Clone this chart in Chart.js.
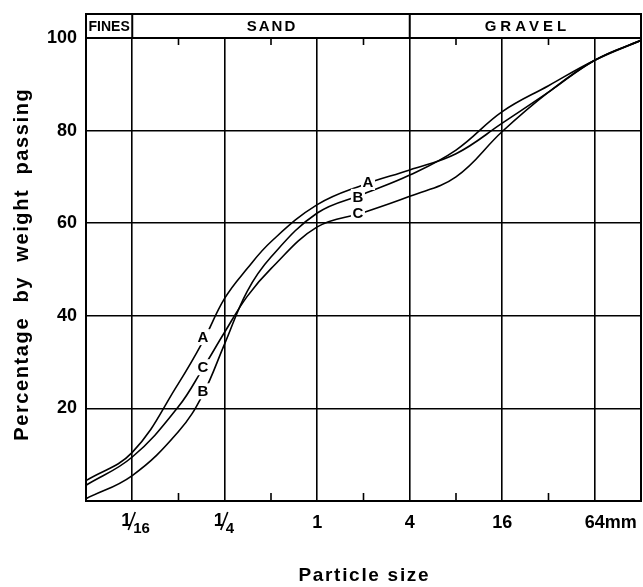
<!DOCTYPE html>
<html>
<head>
<meta charset="utf-8">
<script src="https://cdn.jsdelivr.net/npm/chart.js@4"></script>
<style>
  body { margin: 0; background: #fff; }
  #wrap { width: 643px; height: 587px; }
</style>
</head>
<body>
<div id="wrap"><canvas id="chart" width="643" height="587"></canvas></div>
<script>
// particle sizes in mm, and percentage passing for each grading curve
const sizes  = [1/32, 1/16, 1/8, 0.18, 1/4, 0.35, 1/2, 1, 2, 4, 8, 16, 32, 64, 128];
const curveA = [4.4, 10.5, 25.4, 34.4, 43.8, 50.2, 56, 64, 68.3, 71.5, 75.0, 81.6, 88.3, 95.2, 99.5];
const curveB = [0.5, 5.5, 15, 23, 34, 45.3, 52.7, 62.2, 66.3, 70.4, 75.8, 84.1, 89.7, 95.2, 99.5];
const curveC = [3.4, 9.5, 20.4, 28.6, 36.5, 44.2, 50.2, 59.2, 62.3, 65.8, 70, 79.8, 88.3, 95.2, 99.5];

const xTicks = [1/16, 1/4, 1, 4, 16, 64];
const xTickLabels = ['1/16', '1/4', '1', '4', '16', '64mm'];
const xMinorTicks = [1/8, 1/2, 2, 8, 32];
const yTicks = [0, 20, 40, 60, 80, 100];

// size classes across the top band
const classNames = ['FINES', 'SAND', 'GRAVEL'];
const classBounds = [1/32, 1/16, 4, 128];

// where the curve letters sit (mm, %)
const curveLabels = [
  { text: 'A', x: 0.18, y: 35.4 }, { text: 'C', x: 0.18, y: 28.9 }, { text: 'B', x: 0.18, y: 23.7 },
  { text: 'A', x: 2.14, y: 68.9 }, { text: 'B', x: 1.84, y: 65.7 }, { text: 'C', x: 1.84, y: 62.2 }
];

const FONT = "'Liberation Sans', Arial, Helvetica, sans-serif";
const BAND_TOP = 14;

function spacedText(ctx, text, cx, cy, spacing) {
  ctx.letterSpacing = spacing + 'px';
  const w = ctx.measureText(text).width - spacing;
  ctx.textAlign = 'left';
  ctx.fillText(text, cx - w / 2, cy);
  ctx.letterSpacing = '0px';
}

const gradingPaper = {
  id: 'gradingPaper',
  afterDraw(chart) {
    const { ctx, chartArea: a, scales: { x, y } } = chart;
    ctx.save();
    ctx.strokeStyle = '#000';
    ctx.fillStyle = '#000';

    // outer frame and band
    ctx.lineWidth = 2;
    ctx.strokeRect(a.left, BAND_TOP, a.right - a.left, a.bottom - BAND_TOP);
    ctx.beginPath();
    ctx.moveTo(a.left, a.top); ctx.lineTo(a.right, a.top);
    classBounds.slice(1, -1).forEach(v => {
      const px = x.getPixelForValue(v);
      ctx.moveTo(px, BAND_TOP); ctx.lineTo(px, a.top);
    });
    ctx.stroke();

    // short minor ticks at top and bottom
    ctx.lineWidth = 1.6;
    ctx.beginPath();
    xMinorTicks.forEach(v => {
      const px = x.getPixelForValue(v);
      ctx.moveTo(px, a.bottom); ctx.lineTo(px, a.bottom - 8);
      ctx.moveTo(px, a.top); ctx.lineTo(px, a.top + 7);
    });
    ctx.stroke();

    // band labels
    ctx.textBaseline = 'middle';
    const midY = (BAND_TOP + a.top) / 2 + 1;
    classNames.forEach((name, i) => {
      const l = x.getPixelForValue(classBounds[i]);
      const r = x.getPixelForValue(classBounds[i + 1]);
      if (name === 'FINES') {
        ctx.font = 'bold 14px ' + FONT;
        ctx.textAlign = 'center';
        ctx.fillText(name, (l + r) / 2, midY, r - l - 3);
      } else {
        ctx.font = 'bold 15px ' + FONT;
        spacedText(ctx, name, (l + r) / 2, midY, name === 'SAND' ? 2 : 4);
      }
    });

    // x tick labels
    ctx.textBaseline = 'alphabetic';
    const base = a.bottom + 27;
    xTicks.forEach((v, i) => {
      const px = x.getPixelForValue(v);
      const lab = xTickLabels[i];
      if (lab.includes('/')) {
        const [num, den] = lab.split('/');
        ctx.font = 'bold 18px ' + FONT;
        ctx.textAlign = 'right';
        ctx.fillText(num, px - 1, base - 2);
        ctx.lineWidth = 1.6;
        ctx.beginPath();
        ctx.moveTo(px - 4, base + 2); ctx.lineTo(px + 3, base - 16);
        ctx.stroke();
        ctx.font = 'bold 15px ' + FONT;
        ctx.textAlign = 'left';
        ctx.fillText(den, px + 1, base + 5);
      } else {
        const m = lab.match(/^(\d+)(.*)$/);
        ctx.font = 'bold 18px ' + FONT;
        ctx.textAlign = 'center';
        ctx.fillText(m[1], px, base);
        if (m[2]) {
          const w = ctx.measureText(m[1]).width;
          ctx.textAlign = 'left';
          ctx.fillText(m[2], px + w / 2, base);
        }
      }
    });

    // axis titles
    ctx.textBaseline = 'middle';
    ctx.font = 'bold 19px ' + FONT;
    spacedText(ctx, 'Particle size', (a.left + a.right) / 2, 576, 1.7);
    ctx.save();
    ctx.translate(22, 265);
    ctx.rotate(-Math.PI / 2);
    ctx.font = 'bold 20px ' + FONT;
    spacedText(ctx, 'Percentage  by  weight  passing', 0, 0, 1.6);
    ctx.restore();

    // curve letters, breaking the lines behind them
    ctx.font = 'bold 15px ' + FONT;
    ctx.textAlign = 'center';
    ctx.textBaseline = 'middle';
    curveLabels.forEach(c => {
      const px = x.getPixelForValue(c.x);
      const py = y.getPixelForValue(c.y);
      ctx.fillStyle = '#fff';
      ctx.fillRect(px - 7, py - 8, 14, 16);
      ctx.fillStyle = '#000';
      ctx.fillText(c.text, px, py + 1);
    });
    ctx.restore();
  }
};

const toPoints = vals => sizes.map((s, i) => ({ x: s, y: vals[i] }));

new Chart(document.getElementById('chart'), {
  type: 'line',
  data: {
    datasets: [
      { label: 'A', data: toPoints(curveA) },
      { label: 'B', data: toPoints(curveB) },
      { label: 'C', data: toPoints(curveC) }
    ]
  },
  options: {
    responsive: false,
    animation: false,
    layout: { padding: { top: 38, right: 2, left: 0, bottom: 0 } },
    plugins: { legend: { display: false }, tooltip: { enabled: false } },
    elements: {
      point: { radius: 0 },
      line: { borderWidth: 1.6, borderColor: '#000', tension: 0.4 }
    },
    scales: {
      x: {
        type: 'logarithmic', min: 1/32, max: 128,
        afterBuildTicks: s => { s.ticks = xTicks.map(v => ({ value: v })); },
        afterFit: s => { s.height = 86; },
        ticks: { display: false },
        grid: { color: '#000', lineWidth: 1.6, drawTicks: false },
        border: { color: '#000', width: 2 }
      },
      y: {
        min: 0, max: 100,
        afterBuildTicks: s => { s.ticks = yTicks.map(v => ({ value: v })); },
        afterFit: s => { s.width = 86; },
        ticks: {
          color: '#000', padding: 9,
          font: { family: FONT, size: 18, weight: 'bold' },
          callback: v => v === 0 ? '' : v
        },
        grid: { color: '#000', lineWidth: 1.6, drawTicks: false },
        border: { color: '#000', width: 2 }
      }
    }
  },
  plugins: [gradingPaper]
});
</script>
</body>
</html>
